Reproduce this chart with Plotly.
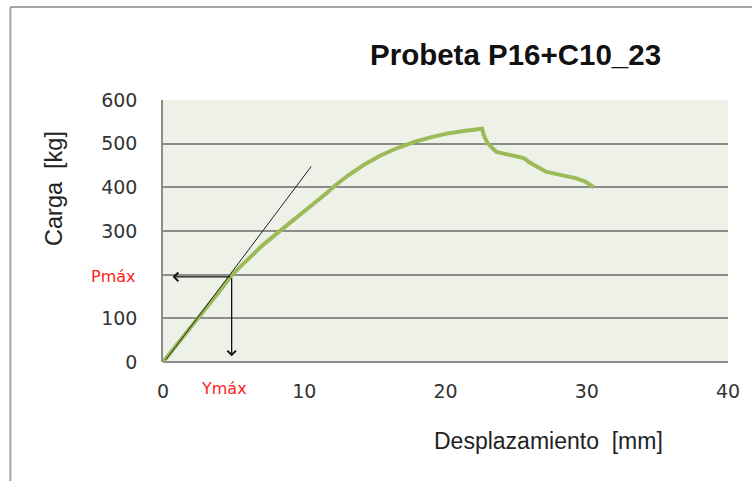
import plotly.graph_objects as go

# ---- data ----
desplazamiento = [0, 1, 2, 3, 4, 4.9, 6, 7, 8.2, 9.5, 10.7, 11.5, 11.7, 12.1, 13.1, 14.2, 15.4,
                  16.6, 17.8, 19.0, 20.1, 21.3, 22.5, 22.6, 22.7, 23.0, 23.6, 24.4, 25.3,
                  25.6, 25.9, 26.4, 27.1, 28.2, 29.2, 29.9, 30.5]
carga = [0, 40, 81, 122, 162, 200, 236, 266, 298, 332, 362, 382, 390, 402, 427, 451, 473,
         490, 504, 515, 523, 529, 532, 534, 520, 500, 481, 476, 469, 466, 458, 449, 436,
         428, 421, 413, 400]

tangente_x = [0.2, 10.5]
tangente_y = [5, 448]

y_max = 4.86     # Ymáx (mm)
p_max = 195      # Pmáx (kg)
flecha_x_fin = 0.68
flecha_y_fin = 13

x_ticks = [0, 10, 20, 30, 40]
y_ticks = [0, 100, 200, 300, 400, 500, 600]
y_ticktext = ["0", "100", "", "300", "400", "500", "600"]

titulo = "Probeta P16+C10_23"
x_titulo = "Desplazamiento\u00a0 [mm]"
y_titulo = "Carga\u00a0 [kg]"

# ---- figure ----
fig = go.Figure()
fig.add_trace(go.Scatter(x=desplazamiento, y=carga, mode="lines",
                         line=dict(color="#9BBB59", width=4), showlegend=False,
                         hoverinfo="skip"))
fig.add_trace(go.Scatter(x=tangente_x, y=tangente_y, mode="lines",
                         line=dict(color="#222222", width=1), showlegend=False,
                         hoverinfo="skip"))

arrow_style = dict(showarrow=True, arrowhead=4, arrowsize=1.3, arrowwidth=1.3,
                   arrowcolor="#111111", axref="x", ayref="y", text="")
fig.add_annotation(x=flecha_x_fin, y=p_max, ax=y_max, ay=p_max, **arrow_style)
fig.add_annotation(x=y_max, y=flecha_y_fin, ax=y_max, ay=p_max, **arrow_style)

fig.add_annotation(x=-0.044, xref="paper", y=p_max, yref="y", text="Pmáx",
                   showarrow=False, xanchor="right", yanchor="middle",
                   font=dict(family="DejaVu Sans", size=16, color="#FF2020"))
fig.add_annotation(x=4.35, xref="x", y=-0.103, yref="paper", text="Ymáx",
                   showarrow=False, xanchor="center", yanchor="middle",
                   font=dict(family="DejaVu Sans", size=16, color="#FF2020"))

fig.add_annotation(x=0.6246, y=1.172, xref="paper", yref="paper", text="<b>" + titulo + "</b>",
                   showarrow=False, xanchor="center", yanchor="middle",
                   font=dict(family="Liberation Sans", size=29.5, color="#111111"))
fig.add_annotation(x=0.682, y=-0.3015, xref="paper", yref="paper", text=x_titulo,
                   showarrow=False, xanchor="center", yanchor="middle",
                   font=dict(family="Liberation Sans", size=23, color="#222222"))
fig.add_annotation(x=-0.193, y=0.664, xref="paper", yref="paper", text=y_titulo,
                   showarrow=False, xanchor="center", yanchor="middle", textangle=-90,
                   font=dict(family="Liberation Sans", size=23.5, color="#222222"))

# outer chart border (left and top)
fig.add_shape(type="line", xref="paper", yref="paper", x0=-0.2702, x1=-0.2702,
              y0=-0.6, y1=1.355, line=dict(color="#A6A6A6", width=2))
fig.add_shape(type="line", xref="paper", yref="paper", x0=-0.2702, x1=1.1,
              y0=1.355, y1=1.355, line=dict(color="#A6A6A6", width=2))

fig.update_layout(
    width=752, height=481,
    margin=dict(l=163, r=19, t=100, b=119),
    paper_bgcolor="white",
    plot_bgcolor="#EEF1E8",
    xaxis=dict(range=[0, 40], tickvals=x_ticks, showgrid=False, zeroline=False,
               showline=False, ticks="", ticklabelstandoff=16,
               tickfont=dict(family="DejaVu Sans", size=19, color="#333333")),
    yaxis=dict(range=[0, 600], tickvals=y_ticks, ticktext=y_ticktext,
               showgrid=True, gridcolor="#8C8C8C", gridwidth=1.5,
               zeroline=True, zerolinecolor="#8C8C8C", zerolinewidth=1.5,
               showline=True, linecolor="#8C8C8C", linewidth=1.5, ticks="",
               ticklabelstandoff=20,
               tickfont=dict(family="DejaVu Sans", size=19, color="#333333")),
)

fig.write_html("out.html", config={"displayModeBar": False},
               post_script="document.body.style.margin='0';document.body.style.overflow='hidden';")
